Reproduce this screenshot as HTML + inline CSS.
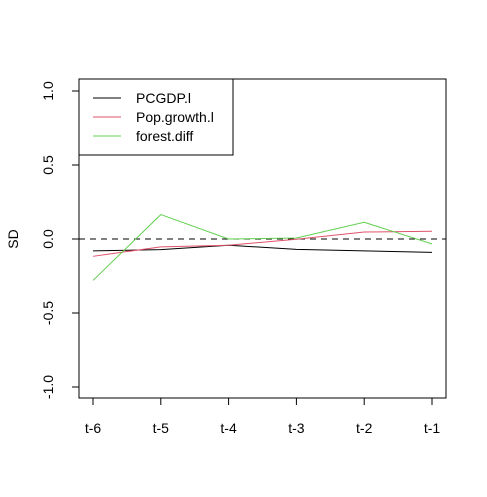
<!DOCTYPE html>
<html><head><meta charset="utf-8"><style>body{margin:0;background:#fff}svg{display:block;font-family:"Liberation Sans",Arial,sans-serif}</style></head>
<body>
<svg id="chart" width="487" height="497">
<rect x="79" y="79" width="367" height="319" fill="none" stroke="#000"/>
<g id="axes"></g><g id="series"></g>
<g>
<rect x="79" y="79" width="154" height="76" fill="#fff" stroke="#000"/>
<line x1="93" y1="98" x2="121" y2="98" stroke="#000"/>
<text x="136" y="103" font-size="14">PCGDP.l</text>
<line x1="93" y1="117" x2="121" y2="117" stroke="#DF536B"/>
<text x="136" y="122" font-size="14">Pop.growth.l</text>
<line x1="93" y1="136" x2="121" y2="136" stroke="#61D04F"/>
<text x="136" y="141" font-size="14">forest.diff</text>
</g>
<text transform="translate(18,239) rotate(-90)" text-anchor="middle" font-size="14">SD</text>
</svg>
<script>
const categories=["t-6","t-5","t-4","t-3","t-2","t-1"];
const pcgdp=[-0.08,-0.072,-0.042,-0.07,-0.08,-0.09];
const popGrowth=[-0.117,-0.053,-0.042,-0.002,0.047,0.052];
const forestDiff=[-0.28,0.165,0,0.007,0.113,-0.033];
const yTicks=[-1,-0.5,0,0.5,1];
const yTickLabels=["-1.0","-0.5","0.0","0.5","1.0"];
const NS="http://www.w3.org/2000/svg";
const xs=i=>93+i*(432-93)/(categories.length-1);
const ys=v=>239-v*148;
const ax=document.getElementById('axes'),se=document.getElementById('series');
function mk(t,a,p){const e=document.createElementNS(NS,t);for(const k in a)e.setAttribute(k,a[k]);p.appendChild(e);return e;}
mk('line',{x1:xs(0),x2:xs(5),y1:398,y2:398,stroke:'#000'},ax);
categories.forEach((c,i)=>{mk('line',{x1:xs(i),x2:xs(i),y1:398,y2:405,stroke:'#000'},ax);
const t=mk('text',{x:xs(i),y:433,'text-anchor':'middle','font-size':14},ax);t.textContent=c;

});
mk('line',{x1:79,x2:79,y1:ys(1),y2:ys(-1),stroke:'#000'},ax);
yTicks.forEach((v,i)=>{mk('line',{x1:72,x2:79,y1:ys(v),y2:ys(v),stroke:'#000'},ax);
const t=mk('text',{transform:`translate(53,${ys(v)}) rotate(-90)`,'text-anchor':'middle','font-size':14},ax);t.textContent=yTickLabels[i];

});
const z=mk('line',{x1:79,x2:446,y1:ys(0),y2:ys(0),stroke:'#000','stroke-dasharray':'6,5'},se);


[[pcgdp,'#000','line-pcgdp'],[popGrowth,'#DF536B','line-popgrowth'],[forestDiff,'#61D04F','line-forest']].forEach(([d,c,n])=>{
const p=mk('polyline',{points:d.map((v,i)=>xs(i)+','+ys(v)).join(' '),fill:'none',stroke:c},se);

});
</script>
</body></html>
